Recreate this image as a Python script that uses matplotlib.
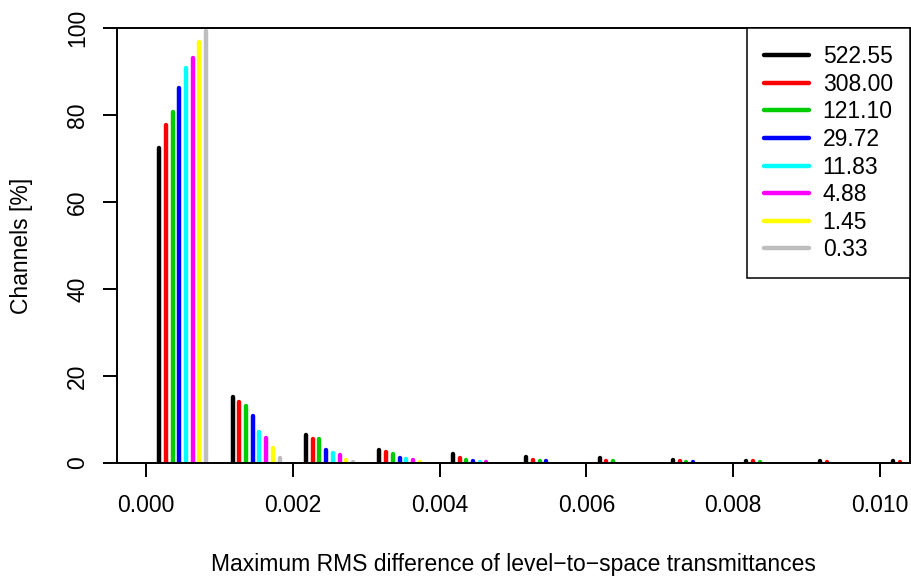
import numpy as np
import matplotlib
matplotlib.use("Agg")
import matplotlib.pyplot as plt

plt.rcParams['font.family'] = ['Liberation Sans', 'DejaVu Sans']

# histogram bins of the max RMS difference (bin width 0.001)
bin_mids = [0.0005, 0.0015, 0.0025, 0.0035, 0.0045, 0.0055,
            0.0065, 0.0075, 0.0085, 0.0095, 0.0105]
labels = ["522.55", "308.00", "121.10", "29.72", "11.83", "4.88", "1.45", "0.33"]
colors = ["black", "red", "#00CD00", "blue", "cyan", "magenta", "yellow", "#BEBEBE"]

# percentage of channels per bin, one row per pressure level
pct = [
    [72.5, 15.2, 6.4, 3.1, 2.1, 1.4, 1.1, 0.7, 0.5, 0.5, 0.4],
    [77.7, 14.1, 5.5, 2.5, 1.2, 0.8, 0.5, 0.4, 0.4, 0.3, 0.3],
    [80.6, 13.2, 5.5, 2.0, 0.7, 0.4, 0.4, 0.3, 0.3, 0.0, 0.0],
    [86.3, 10.9, 3.1, 1.2, 0.4, 0.4, 0.0, 0.3, 0.0, 0.0, 0.0],
    [90.9, 7.2, 2.4, 1.0, 0.3, 0.0, 0.0, 0.0, 0.0, 0.0, 0.0],
    [93.2, 5.8, 1.8, 0.7, 0.3, 0.0, 0.0, 0.0, 0.0, 0.0, 0.0],
    [96.7, 3.5, 0.7, 0.3, 0.0, 0.0, 0.0, 0.0, 0.0, 0.0, 0.0],
    [99.4, 1.2, 0.2, 0.1, 0.0, 0.0, 0.0, 0.0, 0.0, 0.0, 0.0],
]

fs = 16.5
fig = plt.figure(figsize=(9.12, 5.77), dpi=100)
ax = fig.add_axes([117/912, 1 - 463/577, (910 - 117)/912, (463 - 28)/577])

step = 0.00064 / 7
mids = np.array(bin_mids)
for i, (lab, col, vals) in enumerate(zip(labels, colors, pct)):
    v = np.array(vals)
    x = mids + (i - 3.5) * step
    keep = v > 0
    ax.vlines(x[keep], 0, v[keep], colors=col, linewidth=3.2, capstyle='round')
    ax.plot([], [], color=col, linewidth=3.2, solid_capstyle='round', label=lab)

ax.set_xlim(-0.000395, 0.010409)
ax.set_ylim(0, 100)
ax.set_xticks(np.arange(0, 0.0101, 0.002))
ax.set_xticklabels(["%.3f" % t for t in np.arange(0, 0.0101, 0.002)])
ax.set_yticks([0, 20, 40, 60, 80, 100])
ax.set_yticklabels(["0", "20", "40", "60", "80", "100"], rotation=90, va='center')
ax.tick_params(length=10, width=1.4, labelsize=fs, pad=10)
ax.tick_params(axis='x', pad=12)
for s in ax.spines.values():
    s.set_linewidth(1.4)

ax.set_xlabel("Maximum RMS difference of level\u2212to\u2212space transmittances",
              fontsize=fs, labelpad=26)
ax.set_ylabel("Channels [%]", fontsize=fs, labelpad=24)

leg = ax.legend(loc='upper right', bbox_to_anchor=(1, 1), borderaxespad=0,
                fontsize=fs, handlelength=1.95, handletextpad=0.6,
                labelspacing=0.2, borderpad=0.75, fancybox=False, framealpha=1)
leg.get_frame().set_edgecolor('black')
leg.get_frame().set_linewidth(1.1)

fig.savefig("out.png", dpi=100)
